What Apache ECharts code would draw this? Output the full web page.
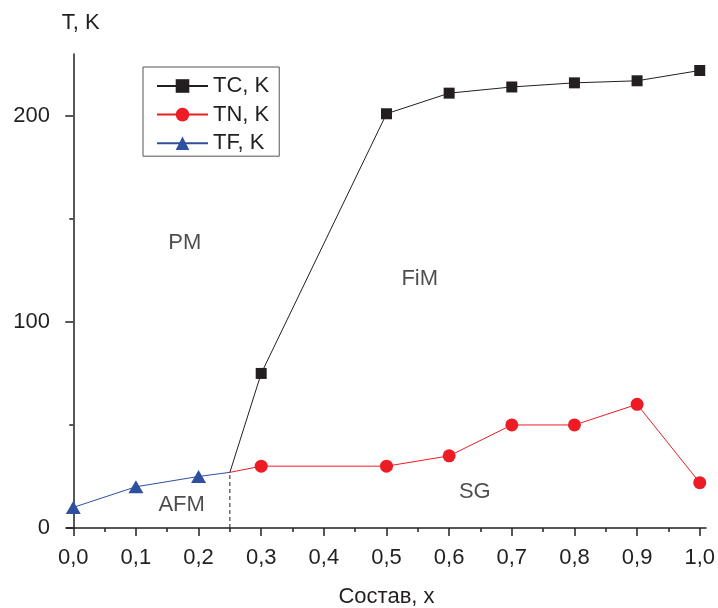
<!DOCTYPE html>
<html>
<head>
<meta charset="utf-8">
<script src="https://cdn.jsdelivr.net/npm/echarts@6/dist/echarts.min.js"></script>
<style>
  html, body { margin: 0; padding: 0; background: #fff; }
  #chart { width: 718px; height: 608px; }
</style>
</head>
<body>
<div id="chart"></div>
<script>
// composition x and temperatures (K)
const tcX = [0.25, 0.3, 0.5, 0.6, 0.7, 0.8, 0.9, 1.0];
const tcY = [27, 75, 201, 211, 214, 216, 217, 222];
const tnX = [0.25, 0.3, 0.5, 0.6, 0.7, 0.8, 0.9, 1.0];
const tnY = [27, 30, 30, 35, 50, 50, 60, 22];
const tfX = [0.0, 0.1, 0.2, 0.25];
const tfY = [10, 20, 25, 27];
const boundaryX = [0.25, 0.25];
const boundaryY = [0, 27];

const xTicks = [0, 0.1, 0.2, 0.3, 0.4, 0.5, 0.6, 0.7, 0.8, 0.9, 1.0];
const xMinorTicks = [0.05, 0.15, 0.25, 0.35, 0.45, 0.55, 0.65, 0.75, 0.85, 0.95];
const yTicks = [0, 100, 200];
const yMinorTicks = [50, 150];

const regionNames = ['PM', 'FiM', 'AFM', 'SG'];
const regionX = [0.178, 0.553, 0.173, 0.641];
const regionY = [138.5, 121, 11, 17.5];

const junction = 0.25; // triple point, drawn without a marker

const FONT = 'Liberation Sans, Arial, sans-serif';
const INK = '#231f20';

function pts(xs, ys) {
  return xs.map((x, i) => {
    if (x === junction) return { value: [x, ys[i]], symbol: 'none' };
    return [x, ys[i]];
  });
}

const chart = echarts.init(document.getElementById('chart'), null, { renderer: 'canvas' });

const baseX = {
  type: 'value',
  min: -0.01,
  max: 1.01,
  position: 'bottom',
  splitLine: { show: false },
};
const baseY = {
  type: 'value',
  min: 0,
  max: 230,
  position: 'left',
  splitLine: { show: false },
};

const option = {
  animation: false,
  backgroundColor: '#fff',
  textStyle: { fontFamily: FONT, color: INK },
  grid: { left: 67, right: 12, top: 54, bottom: 80, containLabel: false, outerBoundsMode: 'none' },
  legend: {
    orient: 'vertical',
    left: 143,
    top: 67,
    data: ['TC, K', 'TN, K', 'TF, K'],
    itemWidth: 51,
    itemHeight: 17,
    itemGap: 6.6,
    padding: [8, 10, 2, 13],
    borderColor: '#555',
    borderWidth: 1,
    textStyle: { fontFamily: FONT, fontSize: 22, color: INK, lineHeight: 22 },
  },
  xAxis: [
    Object.assign({}, baseX, {
      name: 'Состав, x',
      nameLocation: 'middle',
      nameGap: 58,
      nameTextStyle: { fontFamily: FONT, fontSize: 22, color: INK },
      axisLine: { show: true, lineStyle: { color: INK, width: 1.5 } },
      axisTick: { show: true, inside: false, length: 8, customValues: xTicks, lineStyle: { color: INK, width: 1.5 } },
      axisLabel: {
        show: true,
        customValues: xTicks,
        margin: 19,
        fontFamily: FONT,
        fontSize: 22,
        color: INK,
        formatter: v => v.toFixed(1).replace('.', ','),
      },
    }),
    Object.assign({}, baseX, {
      axisLine: { show: false },
      axisTick: { show: true, inside: false, length: 4, customValues: xMinorTicks, lineStyle: { color: INK, width: 1.5 } },
      axisLabel: { show: false },
    }),
  ],
  yAxis: [
    Object.assign({}, baseY, {
      name: 'T, K',
      nameLocation: 'end',
      nameGap: 20,
      nameTextStyle: { fontFamily: FONT, fontSize: 22, color: INK, align: 'center', padding: [0, 0, 0, 15] },
      axisLine: { show: true, lineStyle: { color: INK, width: 1.5 } },
      axisTick: { show: true, inside: false, length: 8, customValues: yTicks, lineStyle: { color: INK, width: 1.5 } },
      axisLabel: { show: true, customValues: yTicks, margin: 17, fontFamily: FONT, fontSize: 22, color: INK },
    }),
    Object.assign({}, baseY, {
      axisLine: { show: false },
      axisTick: { show: true, inside: false, length: 4, customValues: yMinorTicks, lineStyle: { color: INK, width: 1.5 } },
      axisLabel: { show: false },
    }),
  ],
  series: [
    {
      name: 'boundary',
      type: 'line',
      data: boundaryX.map((x, i) => [x, boundaryY[i]]),
      symbol: 'none',
      lineStyle: { color: INK, width: 1, type: [4, 3] },
      z: 1,
    },
    {
      name: 'TN, K',
      type: 'line',
      data: pts(tnX, tnY),
      symbol: 'circle',
      symbolSize: 13,
      color: '#ed1c24',
      itemStyle: { color: '#ed1c24' },
      lineStyle: { color: '#ed1c24', width: 1 },
      z: 2,
    },
    {
      name: 'TF, K',
      type: 'line',
      data: pts(tfX, tfY),
      symbol: 'triangle',
      symbolSize: [15, 13],
      color: '#2f4f9f',
      itemStyle: { color: '#2f4f9f' },
      lineStyle: { color: '#2f4f9f', width: 1 },
      z: 2,
    },
    {
      name: 'TC, K',
      type: 'line',
      data: pts(tcX, tcY),
      symbol: 'rect',
      symbolSize: 11,
      color: INK,
      itemStyle: { color: INK },
      lineStyle: { color: INK, width: 1 },
      z: 3,
    },
    {
      name: 'regions',
      type: 'scatter',
      symbolSize: 0,
      silent: true,
      data: regionNames.map((n, i) => ({ name: n, value: [regionX[i], regionY[i]] })),
      label: {
        show: true,
        position: 'inside',
        formatter: p => p.name,
        fontFamily: FONT,
        fontSize: 22,
        color: INK,
      },
    },
  ],
};

chart.setOption(option);
</script>
</body>
</html>
